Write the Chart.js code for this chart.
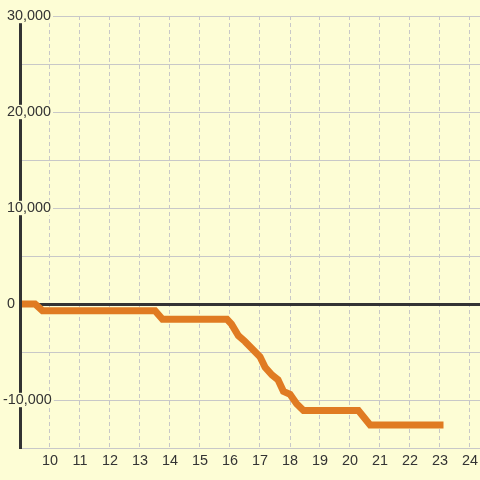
<!DOCTYPE html>
<html>
<head>
<meta charset="utf-8">
<script src="https://cdn.jsdelivr.net/npm/chart.js@4/dist/chart.umd.min.js"></script>
<style>
  html, body { margin: 0; padding: 0; background: #fdfdd5; }
  canvas { display: block; }
</style>
</head>
<body>
<canvas id="c" width="480" height="480"></canvas>
<script>
// Data
const hours = [9, 9.5, 9.75, 13.5, 13.75, 15.9, 16.05, 16.28, 16.5, 17.0, 17.17, 17.4, 17.6, 17.78, 18.0, 18.22, 18.45, 20.28, 20.67, 23];
const values = [0, 0, -700, -700, -1600, -1600, -2100, -3300, -3900, -5500, -6600, -7400, -7900, -9100, -9400, -10400, -11100, -11100, -12600, -12600];
const xTickValues = [10, 11, 12, 13, 14, 15, 16, 17, 18, 19, 20, 21, 22, 23, 24];
const yLabelValues = [30000, 20000, 10000, 0, -10000];

const BG = '#fdfdd5';
const GRID = '#c8c8c8';
const DARK = '#333333';
const ORANGE = '#e07b22';
const FONT = { family: "'Liberation Sans', Arial, sans-serif", size: 14.4, lineHeight: 1 };

const bgPlugin = {
  id: 'bg',
  beforeDraw(chart) {
    const ctx = chart.ctx;
    ctx.save();
    ctx.fillStyle = BG;
    ctx.fillRect(0, 0, chart.width, chart.height);
    ctx.restore();
  }
};

new Chart(document.getElementById('c'), {
  type: 'line',
  data: {
    datasets: [{
      data: hours.map((h, i) => ({ x: h, y: values[i] })),
      borderColor: ORANGE,
      borderWidth: 7,
      borderCapStyle: 'square',
      borderJoinStyle: 'miter',
      pointRadius: 0,
      tension: 0,
      fill: false
    }]
  },
  options: {
    responsive: false,
    animation: false,
    devicePixelRatio: 1,
    layout: { padding: { top: 16, left: 0, right: 0, bottom: 0 } },
    plugins: { legend: { display: false }, tooltip: { enabled: false } },
    scales: {
      x: {
        type: 'linear',
        min: 9,
        max: 9 + 460 / 30,
        afterBuildTicks(scale) {
          scale.ticks = xTickValues.map(v => ({ value: v }));
        },
        afterFit(scale) {
          scale.height = 32;
          scale.paddingLeft = 0;
          scale.paddingRight = 0;
        },
        grid: {
          color: GRID,
          lineWidth: 1,
          drawTicks: false
        },
        border: { display: true, color: GRID, width: 1, dash: [4, 3], dashOffset: 0 },
        ticks: {
          color: DARK,
          font: FONT,
          padding: 6,
          maxRotation: 0,
          autoSkip: false,
          callback: v => String(v)
        }
      },
      y: {
        type: 'linear',
        min: -15000,
        max: 30000,
        afterFit(scale) { scale.width = 20; },
        grid: {
          color: ctx => (ctx.tick && ctx.tick.value === 0) ? DARK : GRID,
          lineWidth: ctx => (ctx.tick && ctx.tick.value === 0) ? 3 : 1,
          drawTicks: false
        },
        border: { display: true, color: DARK, width: 3, z: 1 },
        ticks: {
          stepSize: 5000,
          mirror: true,
          crossAlign: 'near',
          padding: -17,
          z: 1,
          color: DARK,
          font: FONT,
          showLabelBackdrop: true,
          backdropColor: ctx => (ctx.tick && yLabelValues.includes(ctx.tick.value) && ctx.tick.value !== 0) ? BG : 'rgba(0,0,0,0)',
          backdropPadding: { top: 0, bottom: 0, left: 2, right: 2 },
          callback: v => yLabelValues.includes(v) ? (v < 0 ? '' : ' ') + v.toLocaleString('en-US') : ''
        }
      }
    }
  },
  plugins: [bgPlugin]
});
</script>
</body>
</html>
